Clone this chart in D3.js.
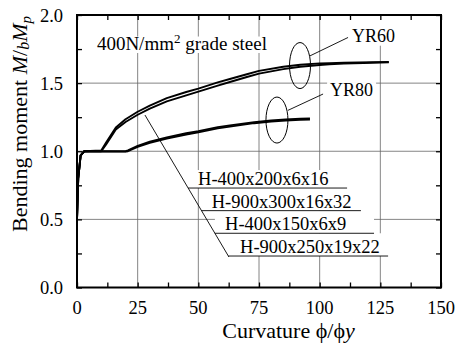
<!DOCTYPE html>
<html>
<head>
<meta charset="utf-8">
<script src="https://cdn.jsdelivr.net/npm/d3@7"></script>
<style>
body { margin: 0; background: #fff; }
</style>
</head>
<body>
<script>
// chart values
var xTicks = [0, 25, 50, 75, 100, 125, 150];
var yTicks = [0.0, 0.5, 1.0, 1.5, 2.0];

// YR60 pair
var yr60X = [0, 0, 0.5, 1.5, 3, 10, 12, 16, 20, 25, 30, 37, 45, 50, 58, 63, 70, 75, 85, 92, 100, 104, 110, 122, 128.5];
var yr60A = [0, 0.5, 0.80, 0.97, 1.0, 1.005, 1.065, 1.175, 1.235, 1.29, 1.335, 1.39, 1.435, 1.46, 1.505, 1.53, 1.565, 1.59, 1.62, 1.635, 1.645, 1.647, 1.649, 1.654, 1.656];
var yr60B = [0, 0.5, 0.80, 0.97, 1.0, 1.0, 1.05, 1.16, 1.215, 1.268, 1.313, 1.366, 1.41, 1.437, 1.482, 1.508, 1.545, 1.57, 1.603, 1.62, 1.633, 1.638, 1.643, 1.65, 1.652];
// YR80 pair
var yr80X = [0, 0, 0.5, 1.5, 3, 10, 20, 21, 25, 30, 37, 45, 50, 58, 63, 73, 80, 86, 92, 96];
var yr80A = [0, 0.5, 0.80, 0.97, 1.0, 1.0, 1.0, 1.006, 1.04, 1.07, 1.102, 1.132, 1.148, 1.177, 1.19, 1.214, 1.226, 1.233, 1.238, 1.241];
var yr80B = [0, 0.5, 0.80, 0.97, 1.0, 0.998, 0.997, 1.0, 1.032, 1.061, 1.093, 1.123, 1.139, 1.168, 1.181, 1.206, 1.218, 1.225, 1.23, 1.233];

var sections = ["H-400x200x6x16", "H-900x300x16x32", "H-400x150x6x9", "H-900x250x19x22"];
var sectionLineM = [0.730, 0.564, 0.398, 0.231];
var sectionLineEnd = [111.3, 117, 122.4, 128.2];
var sectionTextX = [49.9, 55.5, 61, 67.2];

var W = 458, H = 351;
var margin = {top: 15, right: 17, bottom: 63.5, left: 77};
var w = W - margin.left - margin.right, h = H - margin.top - margin.bottom;
var FONT = "Liberation Serif";

var svg = d3.select("body").append("svg")
    .attr("width", W).attr("height", H)
    .attr("font-family", FONT);

var x = d3.scaleLinear().domain([0, 150]).range([margin.left, margin.left + w]);
var y = d3.scaleLinear().domain([0, 2]).range([margin.top + h, margin.top]);

// grid
svg.append("g").selectAll("line")
    .data(xTicks.slice(1, -1))
    .enter().append("line")
    .attr("x1", function(d) { return x(d); }).attr("x2", function(d) { return x(d); })
    .attr("y1", y(0)).attr("y2", y(2))
    .attr("stroke", "#666").attr("stroke-width", 0.8);
svg.append("g").selectAll("line")
    .data(yTicks.slice(1, -1))
    .enter().append("line")
    .attr("y1", function(d) { return y(d); }).attr("y2", function(d) { return y(d); })
    .attr("x1", x(0)).attr("x2", x(150))
    .attr("stroke", "#666").attr("stroke-width", 0.8);

// white label boxes over grid
function box(x0, y0, x1, y1) {
    svg.append("rect").attr("x", x0).attr("y", y0)
        .attr("width", x1 - x0).attr("height", y1 - y0).attr("fill", "#fff");
}
box(x(8.2) - 2, y(1.743) - 13.5, x(8.2) + 174, y(1.743) + 3);
box(x(113.3) - 3, y(2) + 1, x(113.3) + 46, y(1.804) + 4);
box(x(104.3) - 3, y(1.405) - 14, x(104.3) + 46, y(1.405) + 4);

var lx0 = x(28), ly0 = y(1.266), lx1 = x(62.6), ly1 = y(0.224);
function diagX(py) { return lx0 + (py - ly0) * (lx1 - lx0) / (ly1 - ly0); }
sections.forEach(function(s, i) {
    var py = y(sectionLineM[i]);
    var top = i == 0 ? py - 18 : y(sectionLineM[i - 1]);
    box(diagX(py), top, x(sectionLineEnd[i]), py);
});

// curves
var line = d3.line()
    .x(function(d) { return x(d[0]); })
    .y(function(d) { return y(d[1]); });
[[yr60X, yr60A], [yr60X, yr60B], [yr80X, yr80A], [yr80X, yr80B]].forEach(function(c) {
    svg.append("path")
        .datum(d3.zip(c[0], c[1]))
        .attr("d", line)
        .attr("fill", "none")
        .attr("stroke", "#000")
        .attr("stroke-width", 1.9)
        .attr("stroke-linejoin", "round");
});

// frame & ticks
svg.append("rect")
    .attr("x", x(0)).attr("y", y(2)).attr("width", w).attr("height", h)
    .attr("fill", "none").attr("stroke", "#000").attr("stroke-width", 2);

var axB = d3.axisBottom(x).tickValues(d3.range(0, 151, 12.5)).tickSize(-5).tickFormat("");
var axT = d3.axisTop(x).tickValues(d3.range(0, 151, 12.5)).tickSize(-5).tickFormat("");
var axL = d3.axisLeft(y).tickValues(d3.range(0, 2.01, 0.25)).tickSize(-5).tickFormat("");
var axR = d3.axisRight(y).tickValues(d3.range(0, 2.01, 0.25)).tickSize(-5).tickFormat("");
[[axB, "translate(0," + y(0) + ")"], [axT, "translate(0," + y(2) + ")"],
 [axL, "translate(" + x(0) + ",0)"], [axR, "translate(" + x(150) + ",0)"]].forEach(function(a) {
    var g = svg.append("g").attr("transform", a[1]).call(a[0]);
    g.select(".domain").remove();
    g.selectAll("line").attr("stroke", "#000").attr("stroke-width", 1.3);
});

// tick labels
svg.append("g").selectAll("text")
    .data(xTicks).enter().append("text")
    .attr("x", function(d) { return x(d); })
    .attr("y", y(0) + 26)
    .attr("text-anchor", "middle")
    .attr("font-family", FONT)
    .attr("font-size", 18.5)
    .text(function(d) { return d; });
svg.append("g").selectAll("text")
    .data(yTicks).enter().append("text")
    .attr("x", x(0) - 14)
    .attr("y", function(d) { return y(d) + 6.5; })
    .attr("text-anchor", "end")
    .attr("font-family", FONT)
    .attr("font-size", 18.5)
    .text(function(d) { return d.toFixed(1); });

// axis titles
var xt = svg.append("text")
    .attr("x", 288.5).attr("y", 338)
    .attr("text-anchor", "middle")
    .attr("font-family", FONT)
    .attr("font-size", 22);
xt.append("tspan").text("Curvature \u03d5/\u03d5");
xt.append("tspan").attr("font-style", "italic").text("y");

var yt = svg.append("text")
    .attr("transform", "translate(27,124) rotate(-90)")
    .attr("text-anchor", "middle")
    .attr("font-family", FONT)
    .attr("font-size", 22);
yt.append("tspan").text("Bending moment ");
yt.append("tspan").attr("font-style", "italic").text("M");
yt.append("tspan").text("/");
yt.append("tspan").attr("font-style", "italic").attr("font-size", 16).attr("dy", 2).text("b");
yt.append("tspan").attr("font-style", "italic").attr("dy", -2).text("M");
yt.append("tspan").attr("font-style", "italic").attr("font-size", 15).attr("dy", 4).text("p");

// annotations
var st = svg.append("text").attr("x", x(8.2)).attr("y", y(1.743))
    .attr("font-family", FONT).attr("font-size", 19);
st.append("tspan").text("400N/mm");
st.append("tspan").attr("dy", -7).attr("font-size", 13).text("2");
st.append("tspan").attr("dy", 7).text(" grade steel");

svg.append("text").attr("x", x(113.3)).attr("y", y(1.804))
    .attr("font-family", FONT).attr("font-size", 18).text("YR60");
svg.append("text").attr("x", x(104.3)).attr("y", y(1.405))
    .attr("font-family", FONT).attr("font-size", 18).text("YR80");

svg.append("ellipse").attr("cx", x(91.9)).attr("cy", y(1.629)).attr("rx", 10.5).attr("ry", 23)
    .attr("fill", "none").attr("stroke", "#000").attr("stroke-width", 1);
svg.append("ellipse").attr("cx", x(82.4)).attr("cy", y(1.229)).attr("rx", 11).attr("ry", 23)
    .attr("fill", "none").attr("stroke", "#000").attr("stroke-width", 1);
svg.append("line").attr("x1", x(96)).attr("y1", y(1.7)).attr("x2", x(111.7)).attr("y2", y(1.835))
    .attr("stroke", "#000").attr("stroke-width", 0.9);
svg.append("line").attr("x1", x(86.9)).attr("y1", y(1.3)).attr("x2", x(101.4)).attr("y2", y(1.42))
    .attr("stroke", "#000").attr("stroke-width", 0.9);

svg.append("line").attr("x1", lx0).attr("y1", ly0).attr("x2", lx1).attr("y2", ly1)
    .attr("stroke", "#000").attr("stroke-width", 0.9);
sections.forEach(function(s, i) {
    var py = y(sectionLineM[i]);
    svg.append("line").attr("x1", diagX(py)).attr("y1", py).attr("x2", x(sectionLineEnd[i])).attr("y2", py)
        .attr("stroke", "#000").attr("stroke-width", 0.9);
    svg.append("text").attr("x", x(sectionTextX[i])).attr("y", py - 3)
        .attr("font-family", FONT).attr("font-size", 18.5).text(s);
});
</script>
</body>
</html>
